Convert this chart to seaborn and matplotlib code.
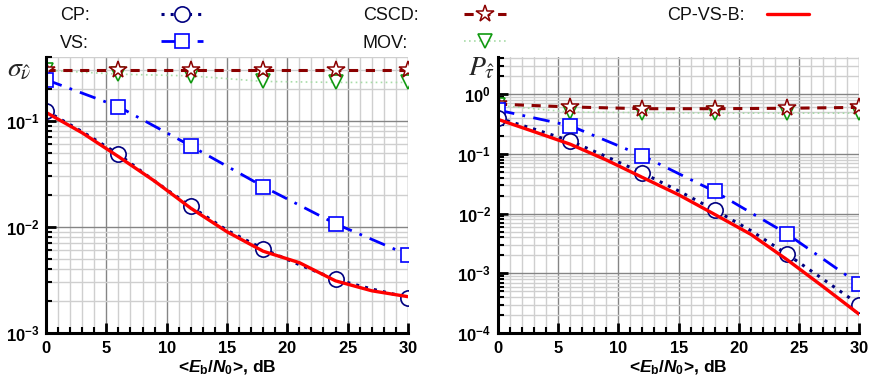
import numpy as np
import pandas as pd
import matplotlib
matplotlib.use("Agg")
import matplotlib.pyplot as plt
import seaborn as sns
from matplotlib.ticker import MultipleLocator, LogLocator, FuncFormatter, NullFormatter

# ---------------- data ----------------
x_mark = [0, 6, 12, 18, 24, 30]
x_dense = [0, 3, 6, 9, 12, 15, 18, 21, 24, 27, 30]

# left panel: sigma_nu
cp_sigma = [0.124, 0.079, 0.0485, 0.027, 0.0156, 0.0093, 0.0062, 0.0044, 0.0032, 0.0026, 0.00216]
vs_sigma = [0.244, 0.136, 0.058, 0.024, 0.0107, 0.00545]
cscd_sigma = [0.30, 0.30, 0.30, 0.30, 0.30, 0.30]
mov_sigma = [0.30, 0.275, 0.265, 0.235, 0.23, 0.23]
cpvsb_sigma = [0.12, 0.077, 0.046, 0.027, 0.015, 0.009, 0.0059, 0.0046, 0.0031, 0.0025, 0.0022]

# right panel: P_tau
cp_P = [0.40, 0.26, 0.165, 0.09, 0.048, 0.024, 0.0115, 0.0052, 0.0021, 0.0008, 0.0003]
vs_P = [0.54, 0.296, 0.093, 0.0235, 0.0046, 0.00066]
cscd_P = [0.68, 0.61, 0.57, 0.57, 0.58, 0.60]
mov_P = [0.65, 0.50, 0.49, 0.48, 0.48, 0.48]
cpvsb_P = [0.378, 0.235, 0.145, 0.079, 0.0403, 0.0207, 0.0097, 0.0045, 0.0017, 0.0006, 0.000207]

labels = ["CP:", "VS:", "CSCD:", "MOV:", "CP-VS-B:"]
xlabel = r"<$\mathit{E}_\mathrm{b}$/$\mathit{N}_\mathrm{0}$>, dB"

# ---------------- style ----------------
sns.set_theme(style="white")
plt.rcParams["font.family"] = ["Liberation Sans", "DejaVu Sans"]
plt.rcParams["mathtext.fontset"] = "custom"
plt.rcParams["mathtext.rm"] = "Liberation Sans:bold"
plt.rcParams["mathtext.it"] = "Liberation Sans:italic:bold"
plt.rcParams["mathtext.bf"] = "Liberation Sans:bold"

fig = plt.figure(figsize=(8.7, 3.84), dpi=100)
ax1 = fig.add_axes([0.0529, 0.1328, 0.416, 0.719])
ax2 = fig.add_axes([0.5724, 0.1328, 0.415, 0.719])


def draw(ax, cp, vs, cscd, mov, red, ylim):
    sns.lineplot(x=x_mark, y=mov, ax=ax, color="#a8dca8", linestyle=(0, (1, 2)), lw=1.2,
                 marker="v", markersize=10, markerfacecolor="white", mec="#119911", mew=1.2,
                 legend=False)
    sns.lineplot(x=x_mark, y=cscd, ax=ax, color="#8b0000", linestyle=(0, (3, 2.5)), lw=2.2,
                 marker="*", markersize=13, markerfacecolor="white", mec="#8b0000", mew=1.1,
                 legend=False)
    sns.lineplot(x=x_mark, y=vs, ax=ax, color="#0000ff", linestyle=(0, (6, 3, 1, 3)), lw=2.0,
                 marker="s", markersize=10, markerfacecolor="white", mec="#0000ff", mew=1.2,
                 legend=False)
    sns.lineplot(x=x_dense, y=cp, ax=ax, color="#000080", linestyle=(0, (1, 2)), lw=2.2,
                 marker="o", markersize=11, markevery=2, markerfacecolor="white", mec="#000080",
                 mew=1.2, legend=False)
    sns.lineplot(x=x_dense, y=red, ax=ax, color="#ff0000", linestyle="-", lw=2.4,
                 legend=False)
    for l in ax.get_lines():
        l.set_clip_on(True)
    ax.set_yscale("log")
    ax.set_xlim(0, 30)
    ax.set_ylim(*ylim)
    ax.xaxis.set_major_locator(MultipleLocator(5))
    ax.xaxis.set_minor_locator(MultipleLocator(1))
    ax.yaxis.set_major_locator(LogLocator(base=10, numticks=20))
    ax.yaxis.set_minor_locator(LogLocator(base=10, subs=np.arange(2, 10), numticks=40))
    ax.xaxis.set_major_formatter(FuncFormatter(lambda v, p: r"$\mathbf{%d}$" % int(round(v))))
    ax.yaxis.set_major_formatter(FuncFormatter(
        lambda v, p: r"$\mathbf{10}^{\mathbf{%d}}$" % int(round(np.log10(v)))))
    ax.yaxis.set_minor_formatter(NullFormatter())
    ax.set_axisbelow(True)
    ax.grid(True, which="major", color="#858585", lw=1.0)
    ax.grid(True, which="minor", color="#cfcfcf", lw=1.0)
    for s in ["top", "right"]:
        ax.spines[s].set_visible(False)
    for s in ["left", "bottom"]:
        ax.spines[s].set_color("black")
        ax.spines[s].set_linewidth(2.2)
    ax.tick_params(which="major", direction="in", length=7, width=2, color="black",
                   labelsize=12, pad=5, labelcolor="black")
    ax.tick_params(which="minor", direction="in", length=4, width=1.5, color="black")
    ax.tick_params(axis="y", which="both", left=True)
    ax.tick_params(axis="x", which="both", bottom=True)
    ax.set_xlabel(xlabel, fontsize=12.5, fontweight="bold", labelpad=2, color="black")
    ax.set_ylabel("")


draw(ax1, cp_sigma, vs_sigma, cscd_sigma, mov_sigma, cpvsb_sigma, (1e-3, 0.4))
draw(ax2, cp_P, vs_P, cscd_P, mov_P, cpvsb_P, (1e-4, 4.2))

ax1.text(-0.108, 0.955, r"$\sigma_{\hat{\nu}}$", transform=ax1.transAxes,
         math_fontfamily="stix", fontsize=20, fontweight="normal", ha="left", va="center")
ax2.text(-0.082, 0.96, r"$P_{\hat{\tau}}$", transform=ax2.transAxes,
         math_fontfamily="stix", fontsize=20, fontweight="normal", ha="left", va="center")

# legend: handles via matplotlib legend, labels as text in fixed columns
ln = ax1.get_lines()
mov_l, cscd_l, vs_l, cp_l, red_l = ln[0], ln[1], ln[2], ln[3], ln[4]
fs_pt = 13
fs_px = fs_pt * 100 / 72
fig.legend([cp_l, vs_l, cscd_l, mov_l, red_l], [""] * 5, ncol=3, loc="upper left",
           bbox_to_anchor=(161 / 870, 1 - 7 / 384), frameon=False, markerfirst=True,
           handlelength=42 / fs_px, handletextpad=0, columnspacing=261 / fs_px,
           labelspacing=0.55, borderpad=0, borderaxespad=0, numpoints=1,
           prop={"size": fs_pt})
label_x = [60, 60, 363, 363, 667]
label_y = [15, 43, 15, 43, 15]
for lab, lx, ly in zip(labels, label_x, label_y):
    fig.text(lx / 870, 1 - ly / 384, lab, fontsize=fs_pt, fontweight="normal",
             ha="left", va="center", color="#111111")

fig.savefig("out.png", dpi=100)
